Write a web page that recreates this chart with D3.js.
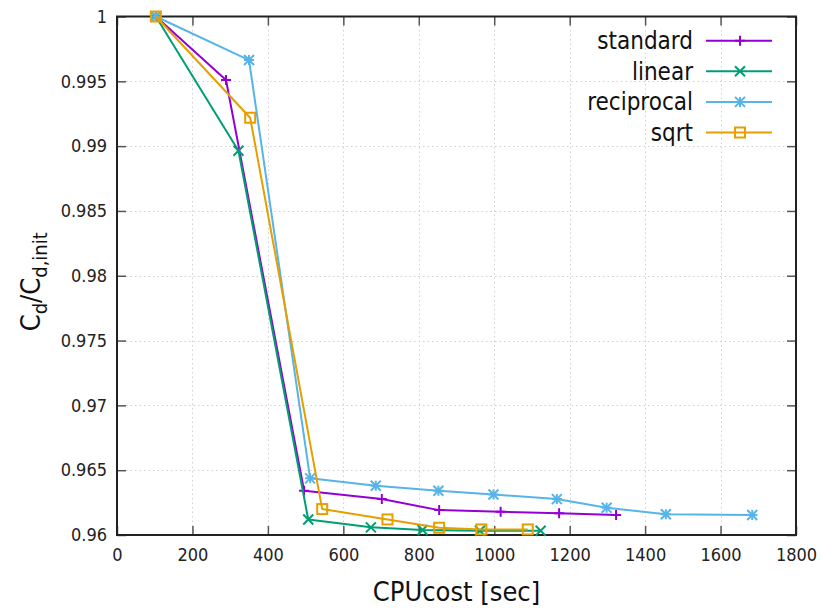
<!DOCTYPE html>
<html>
<head>
<meta charset="utf-8">
<script src="https://d3js.org/d3.v7.min.js"></script>
<style>
  body { margin: 0; background: #fff; }
  svg text { font-family: "DejaVu Sans Condensed", "DejaVu Sans", sans-serif; font-stretch: condensed; }
</style>
</head>
<body>
<div id="chart"></div>
<script>
// values
const seriesNames = ["standard", "linear", "reciprocal", "sqrt"];
const seriesColors = ["#9400d3", "#009e73", "#56b4e9", "#e69f00"];
const seriesMarkers = ["plus", "cross", "star", "square"];

const standardX = [103, 289, 496, 702, 854, 1017, 1172, 1323];
const standardY = [1.0, 0.9951, 0.96341, 0.96277, 0.96192, 0.96179, 0.96167, 0.96154];
const linearX = [103, 322, 507, 673, 810, 962, 1123];
const linearY = [1.0, 0.98964, 0.9612, 0.96059, 0.96038, 0.96033, 0.96033];
const reciprocalX = [103, 350, 512, 686, 852, 998, 1166, 1298, 1455, 1684];
const reciprocalY = [1.0, 0.99664, 0.96437, 0.9638, 0.96341, 0.96313, 0.96277, 0.9621, 0.9616, 0.96154];
const sqrtX = [103, 353, 544, 717, 854, 966, 1089];
const sqrtY = [1.0, 0.99219, 0.962, 0.9612, 0.96056, 0.96043, 0.96043];

const xTicks = [0, 200, 400, 600, 800, 1000, 1200, 1400, 1600, 1800];
const yTicks = [0.96, 0.965, 0.97, 0.975, 0.98, 0.985, 0.99, 0.995, 1];
const xLabel = "CPUcost [sec]";

const allX = [standardX, linearX, reciprocalX, sqrtX];
const allY = [standardY, linearY, reciprocalY, sqrtY];

const width = 824, height = 610;
const margin = {top: 16.5, right: 28, bottom: 75, left: 117};
const innerW = width - margin.left - margin.right;
const innerH = height - margin.top - margin.bottom;

const svg = d3.select("#chart").append("svg")
    .attr("width", width)
    .attr("height", height);

const x = d3.scaleLinear().domain([0, 1800]).range([margin.left, margin.left + innerW]);
const y = d3.scaleLinear().domain([0.96, 1]).range([margin.top + innerH, margin.top]);

//grid
const grid = svg.append("g")
    .attr("stroke", "#d0d0d0")
    .attr("stroke-width", 1)
    .attr("stroke-dasharray", "1.5,3");
grid.selectAll(".gx")
    .data(xTicks.slice(1, -1))
    .enter().append("line")
    .attr("x1", d => Math.round(x(d)) + 0.5).attr("x2", d => Math.round(x(d)) + 0.5)
    .attr("y1", margin.top).attr("y2", margin.top + innerH);
grid.selectAll(".gy")
    .data(yTicks.slice(1, -1))
    .enter().append("line")
    .attr("y1", d => Math.round(y(d)) + 0.5).attr("y2", d => Math.round(y(d)) + 0.5)
    .attr("x1", margin.left).attr("x2", margin.left + innerW);

//axes with inward ticks on all four sides
const fmtY = d => String(+d.toFixed(3));
const fmtX = d => String(d);
const tickLen = 9;
const axes = [
    svg.append("g").attr("transform", `translate(0,${margin.top + innerH})`)
        .call(d3.axisBottom(x).tickValues(xTicks).tickSize(-tickLen).tickPadding(tickLen + 4).tickFormat(fmtX)),
    svg.append("g").attr("transform", `translate(0,${margin.top})`)
        .call(d3.axisTop(x).tickValues(xTicks).tickSize(-tickLen).tickFormat("")),
    svg.append("g").attr("transform", `translate(${margin.left},0)`)
        .call(d3.axisLeft(y).tickValues(yTicks).tickSize(-tickLen).tickPadding(tickLen + 1).tickFormat(fmtY)),
    svg.append("g").attr("transform", `translate(${margin.left + innerW},0)`)
        .call(d3.axisRight(y).tickValues(yTicks).tickSize(-tickLen).tickFormat(""))
];
axes.forEach(a => {
    a.select(".domain").remove();
    a.selectAll(".tick line").attr("stroke", "#555").attr("stroke-width", 1.5);
    a.selectAll("text").attr("font-size", 18).attr("fill", "#222");
});

svg.append("rect")
    .attr("x", margin.left).attr("y", margin.top)
    .attr("width", innerW).attr("height", innerH)
    .attr("fill", "none")
    .attr("stroke", "#222")
    .attr("stroke-width", 2);

//markers
function drawMarker(g, kind, cx, cy, color) {
    const s = 5;
    if (kind === "plus" || kind === "star") {
        g.append("path").attr("d", `M${cx - s},${cy}H${cx + s}M${cx},${cy - s}V${cy + s}`)
            .attr("stroke", color).attr("stroke-width", 2).attr("fill", "none");
    }
    if (kind === "cross" || kind === "star") {
        g.append("path").attr("d", `M${cx - s},${cy - s}L${cx + s},${cy + s}M${cx - s},${cy + s}L${cx + s},${cy - s}`)
            .attr("stroke", color).attr("stroke-width", 2).attr("fill", "none");
    }
    if (kind === "square") {
        g.append("rect").attr("x", cx - 5).attr("y", cy - 5).attr("width", 10).attr("height", 10)
            .attr("stroke", color).attr("stroke-width", 2).attr("fill", "none");
    }
}

const line = d3.line().x(d => x(d[0])).y(d => y(d[1]));

seriesNames.forEach((name, i) => {
    const pts = allX[i].map((v, j) => [v, allY[i][j]]);
    const g = svg.append("g");
    g.append("path")
        .datum(pts)
        .attr("d", line)
        .attr("fill", "none")
        .attr("stroke", seriesColors[i])
        .attr("stroke-width", 2)
        .attr("stroke-linejoin", "round");
    pts.forEach(p => drawMarker(g, seriesMarkers[i], x(p[0]), y(p[1]), seriesColors[i]));
});

//legend
const legend = svg.append("g");
seriesNames.forEach((name, i) => {
    const ly = 40.7 + i * 30.6;
    legend.append("text")
        .attr("x", 693).attr("y", ly)
        .attr("dy", "0.35em")
        .attr("text-anchor", "end")
        .attr("font-size", 24)
        .attr("fill", "#111")
        .text(name);
    legend.append("line")
        .attr("x1", 706).attr("x2", 772).attr("y1", ly).attr("y2", ly)
        .attr("stroke", seriesColors[i]).attr("stroke-width", 2);
    drawMarker(legend, seriesMarkers[i], 740, ly, seriesColors[i]);
});

//axis titles
svg.append("text")
    .attr("x", margin.left + innerW / 2)
    .attr("y", 601)
    .attr("text-anchor", "middle")
    .attr("font-size", 27)
    .attr("fill", "#111")
    .text(xLabel);

const yt = svg.append("text")
    .attr("transform", `translate(40,${margin.top + innerH / 2 + 6}) rotate(-90)`)
    .attr("text-anchor", "middle")
    .attr("font-size", 27)
    .attr("fill", "#111");
yt.append("tspan").text("C");
yt.append("tspan").attr("font-size", 20).attr("dy", 7).text("d");
yt.append("tspan").attr("dy", -7).text("/C");
yt.append("tspan").attr("font-size", 20).attr("dy", 7).text("d,init");
</script>
</body>
</html>
